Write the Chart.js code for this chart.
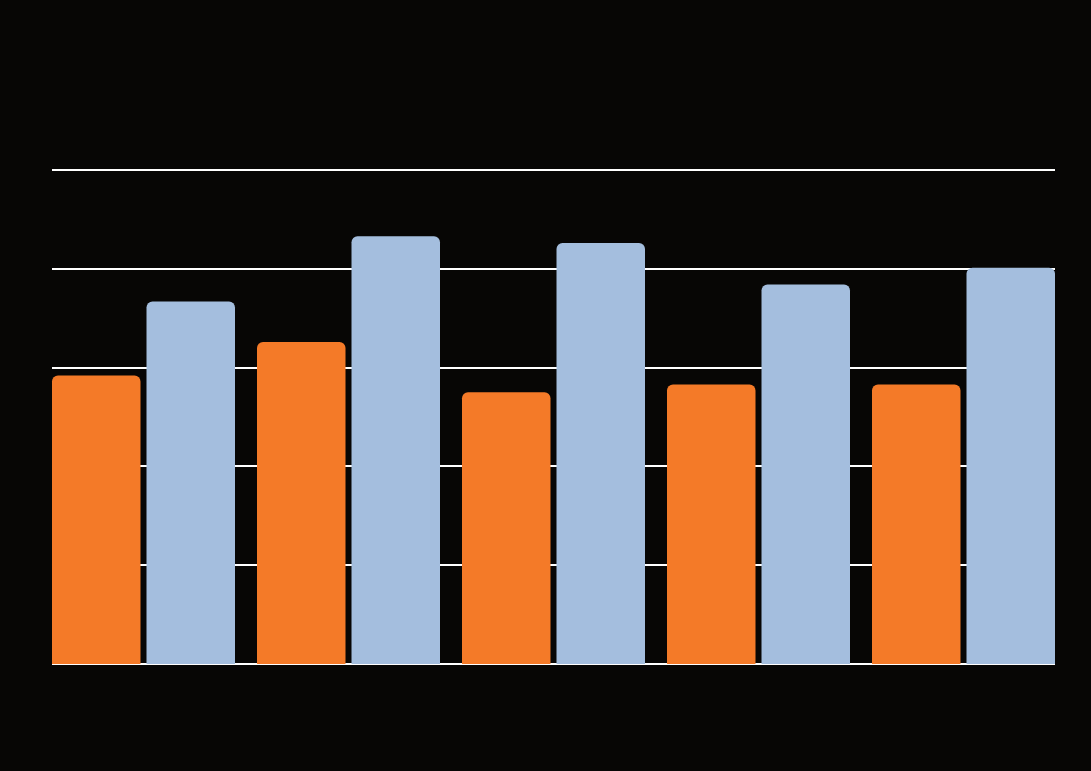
<!DOCTYPE html>
<html>
<head>
<meta charset="utf-8">
<script src="https://cdn.jsdelivr.net/npm/chart.js@4/dist/chart.umd.min.js"></script>
<style>
  html, body { margin: 0; padding: 0; background: #070605; }
  #wrap { width: 1091px; height: 771px; }
</style>
</head>
<body>
<div id="wrap"><canvas id="chart"></canvas></div>
<script>
// Chart data
const categories = ['1', '2', '3', '4', '5'];
const seriesOrange = [29.2, 32.6, 27.5, 28.3, 28.3];
const seriesBlue = [36.7, 43.3, 42.6, 38.4, 40.1];
const yTicks = [0, 10, 20, 30, 40, 50];

// white horizontal lines spanning only the bars' extent
const gridPlugin = {
    id: 'barGrid',
    beforeDatasetsDraw(chart) {
        const ctx = chart.ctx;
        const y = chart.scales.y;
        const first = chart.getDatasetMeta(0).data[0];
        const last = chart.getDatasetMeta(1).data[categories.length - 1];
        const x0 = first.x - first.width / 2;
        const x1 = last.x + last.width / 2;
        ctx.save();
        ctx.strokeStyle = '#ffffff';
        ctx.lineWidth = 2;
        yTicks.forEach(v => {
            const py = Math.round(y.getPixelForValue(v));
            ctx.beginPath();
            ctx.moveTo(x0, py);
            ctx.lineTo(x1, py);
            ctx.stroke();
        });
        ctx.restore();
    }
};

new Chart(document.getElementById('chart').getContext('2d'), {
    type: 'bar',
    data: {
        labels: categories,
        datasets: [
            {
                data: seriesOrange,
                backgroundColor: '#F47A28',
                borderRadius: 6,
                borderSkipped: 'start'
            },
            {
                data: seriesBlue,
                backgroundColor: '#A4BEDE',
                borderRadius: 6,
                borderSkipped: 'start'
            }
        ]
    },
    options: {
        responsive: true,
        maintainAspectRatio: false,
        animation: false,
        categoryPercentage: 0.922,
        barPercentage: 0.9365,
        layout: { padding: { left: 41, right: 25, top: 170, bottom: 107 } },
        plugins: { legend: { display: false }, tooltip: { enabled: false } },
        scales: {
            x: { display: false },
            y: { display: false, min: 0, max: 50 }
        }
    },
    plugins: [gridPlugin]
});
</script>
</body>
</html>
